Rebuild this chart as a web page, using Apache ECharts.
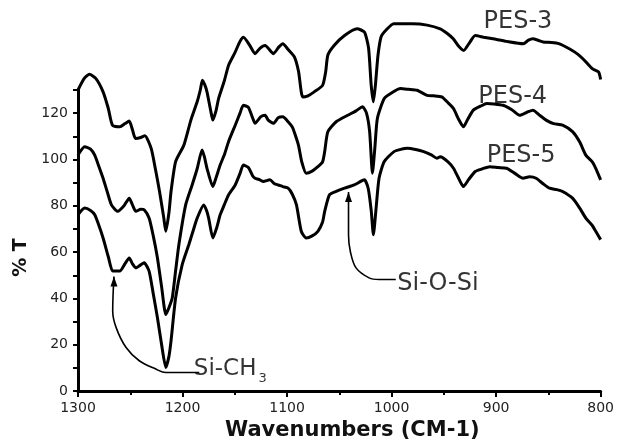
<!DOCTYPE html>
<html>
<head>
<meta charset="utf-8">
<title>FTIR PES</title>
<script src="https://cdn.jsdelivr.net/npm/echarts@6/dist/echarts.min.js"></script>
<style>
  html, body { margin: 0; padding: 0; background: #fff; }
  #chart { width: 617px; height: 446px; }
</style>
</head>
<body>
<div id="chart"></div>
<script>
// [wavenumber (cm-1), %T]
const pes3 = [
  [1300, 130], [1294, 135], [1289, 136.8], [1283, 135], [1276, 129.2], [1271, 122], [1267, 114.8],
  [1260, 114.1], [1255, 115.5], [1251, 116.6], [1248, 113], [1245, 109.1], [1240, 109.5], [1236, 110.3],
  [1230, 104.8], [1226, 96], [1222, 86.2], [1218, 75], [1216, 69], [1213, 77], [1211, 86.2],
  [1206.6, 99.1], [1198.7, 106.2], [1192, 117], [1186, 124.9], [1183, 130], [1181, 134.2], [1178.5, 132],
  [1176.6, 129.2], [1173, 121], [1171, 117], [1168, 121], [1165.5, 126.3], [1160, 134], [1156, 140.6],
  [1150, 146], [1145, 151], [1141.7, 152.8], [1136, 149.5], [1130.6, 145.7], [1126, 148], [1121, 149.2],
  [1113, 145.7], [1108, 148.5], [1104, 150], [1099, 147.5], [1093, 144.3], [1089, 138], [1085, 127],
  [1080, 127.5], [1074, 129.2], [1066, 132], [1063, 138], [1061, 145], [1055, 149.2], [1045, 153.5],
  [1033, 156.4], [1026, 155], [1022, 148], [1019.5, 132], [1017.4, 124.9], [1015.5, 132], [1013, 145],
  [1010, 153], [1005, 156], [998, 158.6], [980, 158.6], [966, 158], [953.5, 156.4], [947, 154.5],
  [941, 152.1], [936, 149], [931, 147.1], [926, 150], [920, 153.5], [912, 152.8], [903, 152.1],
  [890, 151], [874, 150], [869, 151.5], [865, 152.1], [860, 151.5], [855, 150.7], [847, 150.5],
  [840, 150], [830, 147.8], [822, 145.5], [817, 143.5], [808, 139.2], [802, 137.8], [800, 134.5]
]

const pes4 = [
  [1300, 101.9], [1293.6, 105.5], [1288, 104.5], [1284, 101.9], [1280, 97], [1276, 91.9], [1272, 86],
  [1268, 80.4], [1262, 77.6], [1256, 80], [1251, 83.3], [1248, 80.5], [1244.6, 77.6], [1240, 78.5],
  [1236.7, 78.3], [1232, 74.7], [1228, 67], [1224, 57.5], [1220, 45], [1216, 33.1], [1213, 36],
  [1209.8, 40.3], [1206.6, 52], [1203.5, 63.2], [1197, 80.4], [1190.8, 89], [1186, 96], [1181.3, 104.1],
  [1179, 101], [1176.6, 96.2], [1171, 88.3], [1168, 92], [1164, 97.6], [1160, 102], [1156, 107.7],
  [1149.6, 114.8], [1145, 120], [1141.8, 123.4], [1137, 122.5], [1133, 118], [1130.6, 115.6], [1125, 118.5],
  [1121, 119.1], [1118, 117], [1113, 115.6], [1108.5, 118], [1104, 118.4], [1099, 116.3], [1095, 114],
  [1092.7, 111.3], [1089, 106], [1086, 99.1], [1081.7, 94.1], [1076, 95], [1070.5, 96.9], [1066, 99],
  [1064, 103.4], [1061, 112], [1053, 116.3], [1042, 119.1], [1034, 121], [1027.8, 122.8], [1024, 120],
  [1021, 112], [1018.3, 94.1], [1016, 105], [1013.6, 117.7], [1007, 126.3], [999, 129], [991.5, 130.6],
  [984, 130.3], [975.6, 129.9], [966, 127.7], [959.8, 127.5], [952, 127], [946, 124.5], [940.8, 122],
  [936, 117.5], [931.3, 114.1], [927, 117.5], [921.8, 121.3], [915, 123], [909, 124.2], [902, 124],
  [893.3, 123.4], [885, 121.5], [877.5, 119.1], [870, 120.5], [864.8, 121.3], [858, 119], [852.2, 117],
  [845, 115.5], [836.4, 114.8], [826.9, 112], [820, 107.5], [814.2, 101.9], [808, 99], [804.7, 96.2],
  [800, 91.2]
]

const pes5 = [
  [1300, 76.1], [1293.6, 79], [1288, 78], [1284, 76.1], [1280, 71.5], [1276, 66.1], [1271, 58],
  [1266.8, 51.8], [1260, 51.8], [1255, 55], [1251, 57.5], [1248, 55], [1244.6, 53.2], [1240, 54.5],
  [1236.7, 55.4], [1232, 51.8], [1228, 42], [1224, 31.7], [1220, 20], [1216, 10.2], [1213, 15],
  [1211, 21.7], [1206.6, 40.3], [1200.3, 54.6], [1194, 63.2], [1190, 69], [1186, 74.7], [1179.7, 80.4],
  [1177, 78], [1175, 74.7], [1171, 66.1], [1167, 71], [1164, 76.1], [1160, 80.5], [1156, 84.7],
  [1149.6, 89], [1145, 94], [1141.8, 97.6], [1137, 96.5], [1133, 93], [1130.6, 91.9], [1126, 91.2],
  [1122.8, 90.5], [1116.4, 91.2], [1112, 89.5], [1108.5, 89], [1104, 88.3], [1099, 87.6], [1095, 85],
  [1091, 80.4], [1086.4, 69], [1081.7, 66.1], [1076, 67], [1070.5, 69], [1066, 73], [1064, 77.6],
  [1059.5, 84.7], [1053, 86.2], [1045, 87.6], [1035.7, 89], [1026, 91.2], [1022.4, 87.6], [1019.5, 78],
  [1017.4, 67.5], [1015, 78], [1012, 91.9], [1007, 99.1], [997.7, 103.4], [990, 104.5], [985, 104.8],
  [977, 104.3], [969.3, 103.4], [962, 102], [956.6, 100.5], [953.5, 101.2], [946, 99], [940.8, 96.2],
  [936, 92], [931.3, 88.3], [926, 91.5], [920, 94.8], [913, 96], [906, 96.9], [898, 96.5],
  [890, 96.2], [882, 94], [874.3, 91.9], [868, 92.5], [861.7, 91.9], [855, 89.5], [849, 87.6],
  [842, 87], [836.4, 86.2], [826.9, 83.3], [820, 79], [814.2, 74.7], [808, 71.5], [804.7, 69],
  [800, 65.4]
]

// leader lines for the band labels, last point is the arrow tip
const siCh3Leader = [
  [1184, 8], [1205, 8], [1216, 8], [1225.6, 9.5], [1241.4, 13.1], [1254, 18.8], [1263.5, 27.4],
  [1266.8, 34.6], [1265.6, 49.5]
]
const siOSiLeader = [
  [996, 48.2], [1012, 48.2], [1021.5, 48.9], [1034, 53.2], [1039.5, 60.4], [1041.2, 67.5], [1041.2, 86]
]

// label name, wavenumber, %T (left edge / vertical middle of text)
const curveLabels = [
  ['PES-3', 912, 159.3],
  ['PES-4', 917, 127],
  ['PES-5', 909, 101.5]
]
const bandLabels = [
  ['Si-O-Si', 994.6, 46.3],
  ['Si-CH3', 1189.2, 9.6]
]

const xTicks = [1300, 1200, 1100, 1000, 900, 800]
const yTicks = [0, 20, 40, 60, 80, 100, 120]

const chart = echarts.init(document.getElementById('chart'))

function spectrum(name, data) {
  return {
    name: name,
    type: 'line',
    data: data,
    showSymbol: false,
    symbol: 'none',
    smooth: 0.2,
    clip: false,
    lineStyle: { color: '#000', width: 3 }
  }
}

function leader(data) {
  const pts = data.map((p, i) => {
    if (i === data.length - 1) {
      return { value: p, symbol: 'triangle', symbolSize: [7, 10], symbolOffset: [0, 5] }
    }
    return { value: p, symbol: 'none' }
  })
  return {
    type: 'line',
    data: pts,
    smooth: 0.35,
    clip: false,
    showSymbol: true,
    itemStyle: { color: '#000' },
    lineStyle: { color: '#000', width: 1.6 }
  }
}

const textFont = 'DejaVu Sans'

chart.setOption({
  animation: false,
  backgroundColor: '#fff',
  grid: { left: 78, right: 12, top: 90, bottom: 52 },
  xAxis: {
    type: 'value',
    inverse: true,
    min: 800,
    max: 1300,
    interval: 100,
    name: 'Wavenumbers (CM-1)',
    nameLocation: 'middle',
    nameGap: 26,
    nameTextStyle: {
      fontFamily: textFont, fontWeight: 'bold', fontSize: 21, color: '#111',
      padding: [0, 0, 0, 26]
    },
    axisLine: { lineStyle: { color: '#000', width: 3 } },
    axisTick: { show: true, length: 6, lineStyle: { color: '#000', width: 2 } },
    minorTick: { show: true, splitNumber: 2, length: 4, lineStyle: { color: '#000', width: 2 } },
    splitLine: { show: false },
    axisLabel: {
      margin: 10, fontFamily: textFont, fontSize: 14, color: '#222',
      formatter: v => (xTicks.indexOf(v) >= 0 ? String(v) : '')
    }
  },
  yAxis: {
    type: 'value',
    min: 0,
    max: 130,
    interval: 10,
    name: '% T',
    nameLocation: 'middle',
    nameGap: 45,
    nameTextStyle: {
      fontFamily: textFont, fontWeight: 'bold', fontSize: 19, color: '#111',
      padding: [0, 34, 0, 0]
    },
    axisLine: { show: true, lineStyle: { color: '#000', width: 3 } },
    axisTick: { show: true, length: 5, lineStyle: { color: '#000', width: 2 } },
    splitLine: { show: false },
    axisLabel: {
      margin: 10, fontFamily: textFont, fontSize: 14, color: '#222',
      formatter: v => (yTicks.indexOf(v) >= 0 ? String(v) : '')
    }
  },
  series: [
    spectrum('PES-3', pes3),
    spectrum('PES-4', pes4),
    spectrum('PES-5', pes5),
    leader(siCh3Leader),
    leader(siOSiLeader),
    {
      type: 'scatter',
      symbolSize: 0,
      clip: false,
      data: curveLabels.map(d => ({ name: d[0], value: [d[1], d[2]] }))
        .concat(bandLabels.map(d => ({ name: d[0], value: [d[1], d[2]] }))),
      label: {
        show: true,
        position: 'right',
        distance: 0,
        color: '#000',
        fontFamily: textFont,
        fontSize: 24,
        formatter: p => (p.name === 'Si-CH3' ? '{m|Si-CH}{s|3}' : p.name),
        rich: {
          m: { fontFamily: textFont, fontSize: 23, color: '#000' },
          s: { fontFamily: textFont, fontSize: 13, color: '#000', verticalAlign: 'bottom', padding: [20, 0, 0, 2] }
        }
      }
    }
  ]
})

window.addEventListener('resize', () => chart.resize())
</script>
</body>
</html>
